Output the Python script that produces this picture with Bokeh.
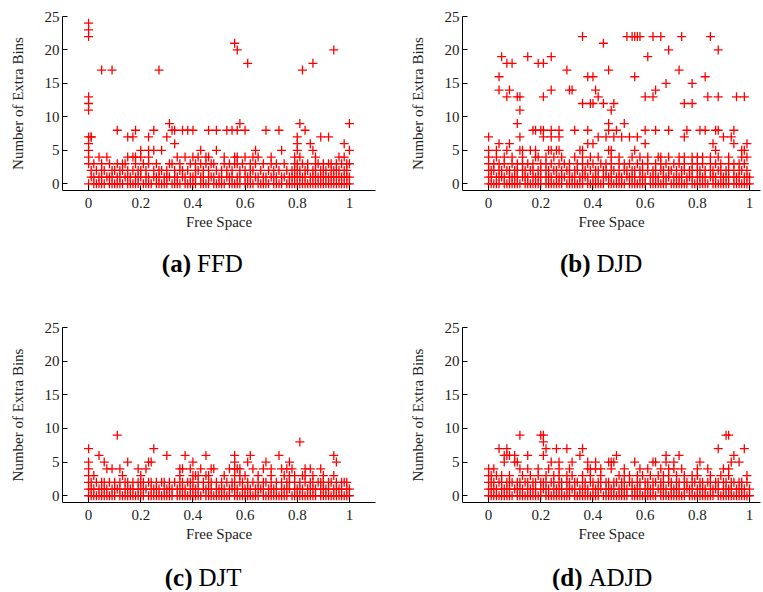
from bokeh.plotting import figure
from bokeh.layouts import column, row
from bokeh.models import FixedTicker, NumeralTickFormatter, Range1d
from bokeh.embed import file_html
from bokeh.resources import INLINE
from bokeh.core.properties import value

# x values: free space in percent; rows give the x values of points at 0,1,2,3,4 extra bins
x_ticks = [0, 0.2, 0.4, 0.6, 0.8, 1]
y_ticks = [0, 5, 10, 15, 20, 25]
captions = [("(a)", "FFD"), ("(b)", "DJD"), ("(c)", "DJT"), ("(d)", "ADJD")]

# ---------------- (a) FFD ----------------
ffd_row0 = [0, 2, 3, 4, 5, 6, 8, 9, 10, 11, 12, 13, 15, 16, 17, 18, 19, 21, 22, 23, 24, 26, 27, 28, 29, 30, 32, 33, 34, 35,
            37, 38, 39, 40, 41, 43, 44, 45, 46, 48, 49, 50, 51, 52, 54, 55, 56, 57, 58, 60, 61, 62, 63, 65, 66, 67, 68, 69,
            71, 72, 73, 74, 76, 77, 78, 79, 80, 81, 82, 83, 84, 85, 86, 87, 88, 89, 90, 91, 92, 93, 94, 95, 96, 97, 98, 99, 100]
ffd_row1 = [1, 2, 4, 5, 7, 8, 9, 11, 12, 14, 15, 16, 18, 19, 20, 22, 23, 25, 26, 27, 29, 30, 31, 33, 34, 36, 37, 39, 40, 41,
            43, 44, 46, 47, 48, 50, 51, 53, 54, 55, 57, 58, 60, 61, 62, 64, 65, 67, 68, 70, 71, 72, 74, 75, 77, 78, 79, 80,
            81, 82, 83, 85, 86, 87, 88, 89, 90, 91, 92, 93, 94, 95, 96, 97, 98, 99, 100]
ffd_row2 = [1, 3, 5, 6, 9, 10, 12, 13, 15, 17, 19, 20, 22, 25, 27, 28, 30, 33, 35, 36, 38, 41, 42, 44, 46, 49, 51, 53, 55, 58,
            60, 62, 63, 66, 69, 71, 73, 76, 78, 79, 80, 81, 83, 84, 86, 87, 89, 90, 91, 93, 94, 95, 96, 98, 99]
ffd_row3 = [0, 2, 5, 8, 11, 13, 14, 18, 21, 23, 26, 31, 32, 35, 39, 41, 43, 45, 47, 48, 52, 54, 56, 57, 59, 62, 64, 67, 70, 72,
            75, 79, 80, 82, 84, 87, 88, 90, 92, 93, 95, 97, 99, 100]
ffd_row4 = [0, 4, 7, 15, 17, 18, 20, 23, 34, 37, 40, 42, 45, 46, 52, 56, 57, 60, 63, 65, 70, 79, 81, 87, 96, 98]
ffd_hi_x = [0, 0, 0, 0, 0, 0, 0, 1, 0, 0,
            5, 9, 27, 56, 57, 61, 82, 86, 94,
            31, 58, 81, 100,
            11, 18, 25, 32, 33, 36, 38, 40, 46, 49, 53, 55, 57, 60, 68, 73, 83,
            1, 15, 17, 23, 30, 80, 89, 92,
            33, 80, 85, 98,
            20, 23, 25, 28, 43, 49, 64, 74, 80, 86, 100]
ffd_hi_y = [24, 23, 22, 13, 12, 11, 7, 7, 6, 5,
            17, 17, 17, 21, 20, 18, 17, 18, 20,
            9, 9, 9, 9,
            8, 8, 8, 8, 8, 8, 8, 8, 8, 8, 8, 8, 8, 8, 8, 8, 8,
            7, 7, 7, 7, 7, 7, 7, 7,
            6, 6, 6, 6,
            5, 5, 5, 5, 5, 5, 5, 5, 5, 5, 5]

# ---------------- (b) DJD ----------------
djd_row0 = [0, 1, 2, 3, 4, 6, 7, 8, 9, 10, 11, 12, 14, 15, 16, 17, 18, 19, 20, 22, 23, 24, 25, 26, 27, 28, 30, 31, 32, 33,
            34, 35, 36, 38, 39, 40, 41, 42, 43, 44, 46, 47, 48, 49, 50, 51, 52, 54, 55, 56, 57, 58, 59, 60, 62, 63, 64, 65,
            66, 67, 68, 70, 71, 72, 73, 74, 75, 76, 78, 79, 80, 81, 82, 83, 84, 86, 87, 88, 89, 90, 91, 92, 94, 95, 96, 97,
            98, 99, 100]
djd_row1 = [0, 1, 3, 4, 5, 6, 8, 9, 10, 11, 13, 14, 15, 17, 18, 19, 20, 22, 23, 24, 26, 27, 28, 29, 31, 32, 33, 35, 36, 37,
            38, 40, 41, 42, 44, 45, 46, 47, 49, 50, 51, 53, 54, 55, 56, 58, 59, 60, 62, 63, 64, 65, 67, 68, 69, 71, 72, 73,
            74, 76, 77, 78, 80, 81, 82, 83, 85, 86, 87, 89, 90, 91, 92, 94, 95, 96, 98, 99, 100]
djd_row2 = [0, 1, 2, 4, 5, 7, 8, 10, 11, 13, 14, 16, 17, 19, 20, 22, 23, 25, 26, 28, 30, 31, 33, 34, 36, 37, 39, 41, 42, 44,
            45, 47, 48, 50, 52, 53, 55, 56, 58, 59, 61, 63, 64, 66, 67, 69, 70, 72, 74, 75, 77, 78, 80, 81, 83, 85, 86, 88,
            89, 91, 92, 94, 96, 97, 99]
djd_row3 = [0, 2, 4, 6, 9, 11, 13, 15, 17, 20, 22, 24, 27, 29, 31, 34, 36, 38, 40, 43, 45, 47, 50, 52, 54, 57, 59, 61, 64, 66,
            68, 71, 73, 75, 78, 80, 82, 85, 87, 89, 92, 94, 96, 98]
djd_row4 = [0, 3, 6, 9, 13, 18, 19, 22, 25, 28, 33, 36, 39, 42, 47, 50, 55, 58, 61, 65, 66, 69, 73, 75, 78, 80, 82, 85, 88,
            92, 97, 99]
djd_hi_x = [36, 53, 55, 56, 57, 58, 63, 66, 74, 85,
            44, 69, 88,
            5, 15, 24, 61,
            7, 9, 19, 21,
            30, 46, 73,
            4, 38, 40, 56, 83,
            68, 78,
            4, 8, 24, 31, 32, 41, 64,
            7, 11, 12, 21, 42, 60, 63, 84, 88, 95, 98,
            36, 39, 40, 44, 48, 75, 78,
            12, 47,
            11, 46, 52,
            17, 18, 20, 21, 24, 27, 33, 38, 46, 49, 60, 64, 69, 76, 81, 83, 87, 88, 94,
            0, 12, 21, 24, 27, 42, 45, 48, 51, 54, 57, 75, 90, 93,
            4, 8, 38, 40, 60, 86, 94, 99,
            0, 3, 7, 12, 13, 16, 18, 23, 24, 26, 27, 35, 36, 46, 47, 56, 87, 97, 98]
djd_hi_y = [22, 22, 22, 22, 22, 22, 22, 22, 22, 22,
            21, 20, 20,
            19, 19, 19, 19,
            18, 18, 18, 18,
            17, 17, 17,
            16, 16, 16, 16, 16,
            15, 15,
            14, 14, 14, 14, 14, 14, 14,
            13, 13, 13, 13, 13, 13, 13, 13, 13, 13, 13,
            12, 12, 12, 12, 12, 12, 12,
            11, 11,
            9, 9, 9,
            8, 8, 8, 8, 8, 8, 8, 8, 8, 8, 8, 8, 8, 8, 8, 8, 8, 8, 8,
            7, 7, 7, 7, 7, 7, 7, 7, 7, 7, 7, 7, 7, 7,
            6, 6, 6, 6, 6, 6, 6, 6,
            5, 5, 5, 5, 5, 5, 5, 5, 5, 5, 5, 5, 5, 5, 5, 5, 5, 5, 5]

# ---------------- (c) DJT ----------------
djt_row0 = [0, 1, 2, 3, 4, 5, 6, 7, 8, 9, 10, 12, 13, 14, 15, 16, 17, 18, 19, 20, 21, 23, 24, 25, 26, 27, 28, 29, 30, 31,
            32, 34, 35, 36, 37, 38, 39, 40, 41, 42, 43, 45, 46, 47, 48, 49, 50, 51, 52, 53, 54, 56, 57, 58, 59, 60, 61, 62,
            63, 64, 65, 67, 68, 69, 70, 71, 72, 73, 74, 75, 76, 78, 79, 80, 81, 82, 83, 84, 85, 86, 87, 89, 90, 91, 92, 93,
            94, 95, 96, 97, 98, 99, 100]
djt_row1 = [0, 1, 2, 4, 5, 6, 7, 9, 10, 11, 12, 14, 15, 16, 17, 19, 20, 21, 22, 24, 25, 26, 27, 29, 30, 31, 32, 34, 35, 36,
            37, 39, 40, 41, 42, 44, 45, 46, 47, 49, 50, 51, 52, 54, 55, 56, 57, 59, 60, 61, 62, 64, 65, 66, 67, 69, 70, 71,
            72, 74, 75, 76, 77, 79, 80, 81, 82, 84, 85, 86, 87, 89, 90, 91, 92, 94, 95, 96, 97, 99, 100]
djt_row2 = [0, 1, 3, 5, 6, 8, 10, 12, 14, 15, 17, 19, 20, 21, 23, 24, 26, 28, 29, 31, 33, 35, 36, 38, 39, 40, 42, 44, 46, 47,
            49, 51, 53, 55, 56, 58, 59, 61, 63, 65, 67, 68, 70, 72, 74, 76, 77, 79, 81, 83, 85, 86, 88, 89, 90, 92, 93, 95,
            97, 98, 99]
djt_row3 = [0, 2, 13, 20, 35, 40, 41, 42, 45, 46, 52, 56, 58, 60, 65, 70, 75, 77, 79, 82, 83, 86, 90, 94]
djt_row4 = [0, 7, 9, 12, 19, 22, 35, 36, 39, 43, 47, 48, 54, 56, 57, 58, 63, 67, 70, 74, 76, 78, 83, 85, 89]
djt_hi_x = [11, 81, 0, 25,
            4, 30, 37, 45, 56, 62, 73, 94,
            0, 6, 15, 23, 24, 40, 56, 61, 68, 77, 95]
djt_hi_y = [9, 8, 7, 7,
            6, 6, 6, 6, 6, 6, 6, 6,
            5, 5, 5, 5, 5, 5, 5, 5, 5, 5, 5]

# ---------------- (d) ADJD ----------------
adjd_row0 = [0, 1, 2, 3, 4, 5, 6, 7, 8, 9, 11, 12, 13, 14, 15, 16, 17, 18, 19, 20, 22, 23, 24, 25, 26, 27, 28, 29, 30, 31,
             33, 34, 35, 36, 37, 38, 39, 40, 41, 42, 44, 45, 46, 47, 48, 49, 50, 51, 52, 53, 55, 56, 57, 58, 59, 60, 61, 62,
             63, 64, 66, 67, 68, 69, 70, 71, 72, 73, 74, 75, 77, 78, 79, 80, 81, 82, 83, 84, 85, 86, 88, 89, 90, 91, 92, 93,
             94, 95, 96, 97, 98, 99, 100]
adjd_row1 = [0, 1, 2, 3, 5, 6, 7, 8, 10, 11, 12, 13, 15, 16, 17, 18, 20, 21, 22, 23, 25, 26, 27, 28, 30, 31, 32, 33, 35, 36,
             37, 38, 40, 41, 42, 43, 45, 46, 47, 48, 50, 51, 52, 53, 55, 56, 57, 58, 60, 61, 62, 63, 65, 66, 67, 68, 70, 71,
             72, 73, 75, 76, 77, 78, 80, 81, 82, 83, 85, 86, 87, 88, 90, 91, 92, 93, 95, 96, 97, 98, 100]
adjd_row2 = [0, 1, 2, 4, 5, 7, 8, 9, 11, 12, 14, 15, 17, 18, 20, 21, 22, 24, 25, 27, 28, 30, 31, 33, 34, 36, 37, 39, 40, 42,
             43, 45, 46, 48, 49, 51, 52, 54, 55, 57, 58, 60, 61, 63, 64, 66, 67, 69, 70, 72, 73, 75, 76, 78, 79, 81, 82, 84,
             85, 87, 88, 90, 91, 93, 94, 96, 97, 99]
adjd_row3 = [0, 1, 3, 5, 8, 13, 16, 19, 22, 25, 27, 30, 32, 36, 39, 43, 50, 52, 54, 57, 59, 62, 65, 67, 69, 72, 75, 78, 80,
             85, 89, 92, 99]
adjd_row4 = [0, 2, 12, 15, 19, 23, 27, 31, 38, 39, 41, 43, 47, 52, 58, 61, 66, 69, 71, 74, 80, 84, 90, 92]
adjd_hi_x = [12, 20, 21, 91, 92,
             21,
             4, 7, 22, 26, 30, 36, 88, 98,
             6, 7, 8, 10, 15, 21, 35, 49, 68, 73, 94,
             6, 10, 11, 24, 27, 32, 38, 41, 46, 47, 48, 56, 63, 64, 68, 71, 81, 93, 96]
adjd_hi_y = [9, 9, 9, 9, 9,
             8,
             7, 7, 7, 7, 7, 7, 7, 7,
             6, 6, 6, 6, 6, 6, 6, 6, 6, 6, 6,
             5, 5, 5, 5, 5, 5, 5, 5, 5, 5, 5, 5, 5, 5, 5, 5, 5, 5, 5]

SERIF = "Liberation Serif"


def collect(rows, hx, hy):
    xs, ys = [], []
    for level, r in enumerate(rows):
        xs += [v / 100 for v in r]
        ys += [level] * len(r)
    xs += [v / 100 for v in hx]
    ys += list(hy)
    return xs, ys


def scatter_plot(xs, ys, width, height, left, right, top, bottom, x_end):
    p = figure(width=width, height=height, x_range=Range1d(-0.1, x_end), y_range=Range1d(-1, 25),
               output_backend="svg", toolbar_location=None,
               min_border_left=left, min_border_right=right, min_border_top=top, min_border_bottom=bottom)
    p.outline_line_color = None
    p.grid.visible = False
    p.background_fill_color = "white"
    p.border_fill_color = "white"
    p.scatter(xs, ys, marker="cross", size=9, line_color="#ff0000", line_width=1.3)
    p.xaxis.ticker = FixedTicker(ticks=x_ticks)
    p.yaxis.ticker = FixedTicker(ticks=y_ticks)
    p.xaxis.formatter = NumeralTickFormatter(format="0.[0]")
    p.xaxis.axis_label = "Free Space"
    p.yaxis.axis_label = "Number of Extra Bins"
    for ax in (p.xaxis, p.yaxis):
        ax.axis_line_color = "black"
        ax.axis_line_width = 1
        ax.major_tick_in = 5
        ax.major_tick_out = 0
        ax.major_tick_line_color = "black"
        ax.minor_tick_line_color = None
        ax.major_label_text_font = SERIF
        ax.major_label_text_font_size = "15px"
        ax.major_label_text_color = "#222222"
        ax.axis_label_text_font = SERIF
        ax.axis_label_text_font_size = "15px"
        ax.axis_label_text_font_style = "normal"
        ax.axis_label_text_color = "#222222"
    p.xaxis.major_label_standoff = 7
    p.xaxis.axis_label_standoff = 3
    p.yaxis.major_label_standoff = 3
    p.yaxis.axis_label_standoff = 16
    return p


def caption_fig(width, height, xsplit, mid, tag, name):
    c = figure(width=width, height=height, x_range=Range1d(0, width), y_range=Range1d(0, height),
               output_backend="svg", toolbar_location=None, x_axis_location=None, y_axis_location=None,
               min_border_left=0, min_border_right=0, min_border_top=0, min_border_bottom=0)
    c.outline_line_color = None
    c.grid.visible = False
    c.text(x=[xsplit - 3], y=[mid], text=[tag], text_align="right", text_baseline="middle",
           text_font=value(SERIF), text_font_style="bold", text_font_size="25px", text_color="black")
    c.text(x=[xsplit + 3], y=[mid], text=[name], text_align="left", text_baseline="middle",
           text_font=value(SERIF), text_font_style="normal", text_font_size="25px", text_color="black")
    return c


xa, ya = collect([ffd_row0, ffd_row1, ffd_row2, ffd_row3, ffd_row4], ffd_hi_x, ffd_hi_y)
xb, yb = collect([djd_row0, djd_row1, djd_row2, djd_row3, djd_row4], djd_hi_x, djd_hi_y)
xc, yc = collect([djt_row0, djt_row1, djt_row2, djt_row3, djt_row4], djt_hi_x, djt_hi_y)
xd, yd = collect([adjd_row0, adjd_row1, adjd_row2, adjd_row3, adjd_row4], adjd_hi_x, adjd_hi_y)

pa = scatter_plot(xa, ya, 398, 240, 62, 23, 16, 50, 1.1)
pb = scatter_plot(xb, yb, 364, 240, 64, 2, 16, 50, 1.042)
pc = scatter_plot(xc, yc, 398, 244, 62, 23, 19, 50, 1.1)
pd = scatter_plot(xd, yd, 364, 244, 64, 2, 19, 50, 1.042)

ca = caption_fig(398, 68, 193.5, 68 - 23, *captions[0])
cb = caption_fig(364, 68, 195, 68 - 23, *captions[1])
cc = caption_fig(398, 38, 195, 38 - 25, *captions[2])
cd = caption_fig(364, 38, 187, 38 - 25, *captions[3])

layout = column(row(pa, pb), row(ca, cb), row(pc, pd), row(cc, cd))

open("out.html", "w").write(file_html(layout, INLINE))
